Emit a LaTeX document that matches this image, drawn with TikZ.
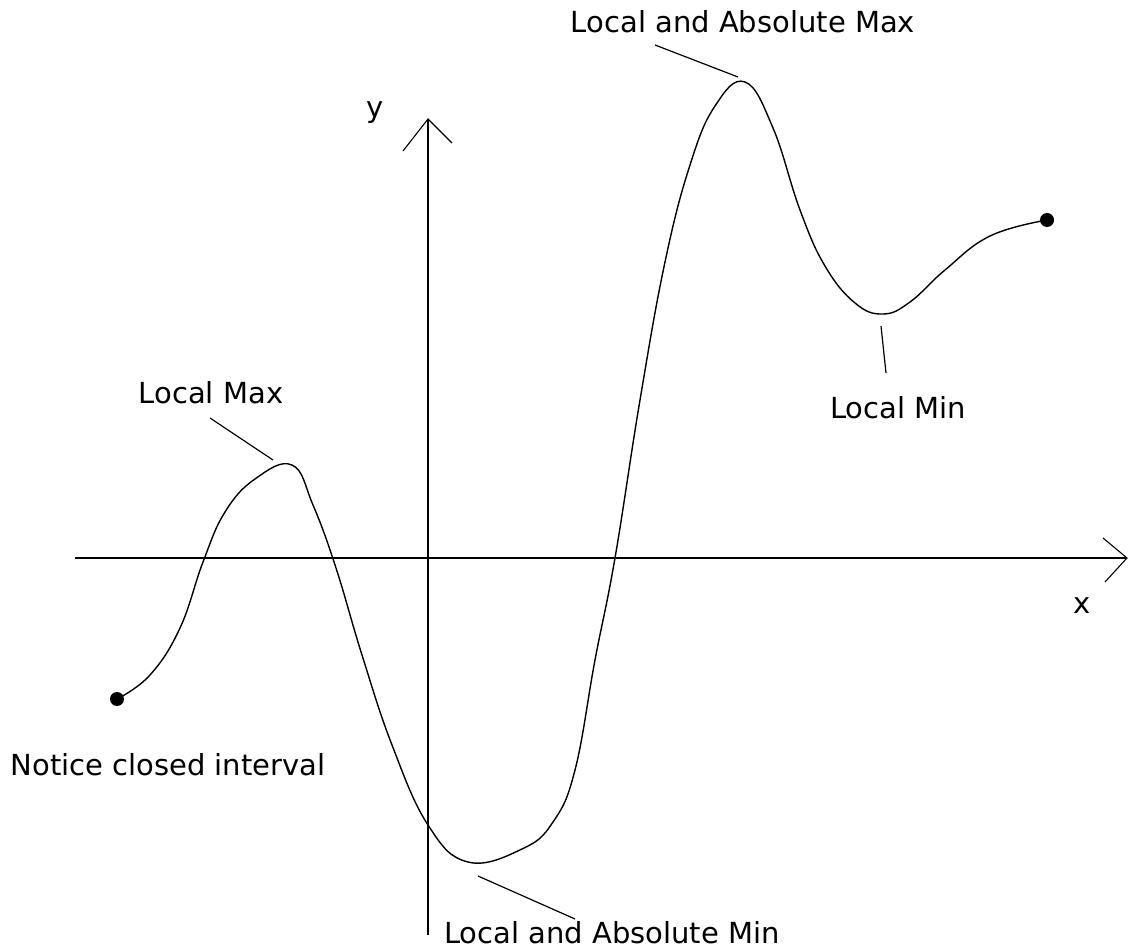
\documentclass[tikz,border=0pt]{standalone}
\usepackage{fontspec}
\setmainfont{DejaVu Sans}

\begin{document}
\begin{tikzpicture}[
    x=1pt, y=-1pt,
    axis/.style={line width=1.5pt, black},
    tip/.style={line width=1.1pt, black},
    curve/.style={line width=1.4pt, black},
    pointer/.style={line width=1.2pt, black},
    endpt/.style={circle, fill=black, inner sep=0pt, minimum size=14pt},
    label_text/.style={font=\fontsize{29}{34}\selectfont, inner sep=0pt}
]
    \useasboundingbox (0,0) rectangle (1128,949);

    % --- AXES ---
    \coordinate (x-start) at (75,558);
    \coordinate (x-end) at (1127,558);
    \coordinate (y-start) at (428,935);
    \coordinate (y-end) at (428,119);
    \draw[axis] (x-start) -- (x-end);
    \draw[axis] (y-start) -- (y-end);
    % open arrow heads
    \coordinate (x-tip-a) at (1103,538);
    \coordinate (x-tip-b) at (1105,582);
    \coordinate (y-tip-a) at (403,151);
    \coordinate (y-tip-b) at (452,143);
    \draw[tip] (x-tip-a) -- (x-end) -- (x-tip-b);
    \draw[tip] (y-tip-a) -- (y-end) -- (y-tip-b);
    \node[label_text] (x-lab) at (1082,606) {x};
    \node[label_text] (y-lab) at (375,113) {y};

    % --- FUNCTION ---
    \node[endpt] (left-end) at (117,699) {};
    \node[endpt] (right-end) at (1047,220) {};
    \coordinate (loc-max) at (292,465);
    \coordinate (abs-min) at (468,862);
    \coordinate (abs-max) at (745,82);
    \coordinate (loc-min) at (883,314);
    \draw[curve] plot[smooth, tension=0.7] coordinates {
        (117,699) (150,675) (180,628) (203,562) (225,512) (255,479) (loc-max)
        (313,505) (336,568) (362,655) (392,745) (428,825) (abs-min)
        (522,849) (553,822) (575,770) (595,660) (615,558) (640,400)
        (665,262) (690,165) (715,106) (abs-max) (773,128)
        (800,210) (825,266) (855,303) (loc-min) (910,302) (945,270)
        (990,236) (1047,220)
    };

    % --- LABELS ---
    \node[label_text] (t-locmax) at (211,393) {Local Max};
    \node[label_text] (t-absmax) at (743,22) {Local and Absolute Max};
    \node[label_text] (t-locmin) at (898,408) {Local Min};
    \node[label_text] (t-absmin) at (612,933) {Local and Absolute Min};
    \node[label_text] (t-closed) at (168,765) {Notice closed interval};

    \coordinate (p-locmax-a) at (210,418);
    \coordinate (p-locmax-b) at (273,460);
    \coordinate (p-absmax-a) at (655,45);
    \coordinate (p-absmax-b) at (738,77);
    \coordinate (p-locmin-a) at (881,326);
    \coordinate (p-locmin-b) at (886,373);
    \coordinate (p-absmin-a) at (478,876);
    \coordinate (p-absmin-b) at (575,919);
    \draw[pointer] (p-locmax-a) -- (p-locmax-b);
    \draw[pointer] (p-absmax-a) -- (p-absmax-b);
    \draw[pointer] (p-locmin-a) -- (p-locmin-b);
    \draw[pointer] (p-absmin-a) -- (p-absmin-b);

\end{tikzpicture}
\end{document}
